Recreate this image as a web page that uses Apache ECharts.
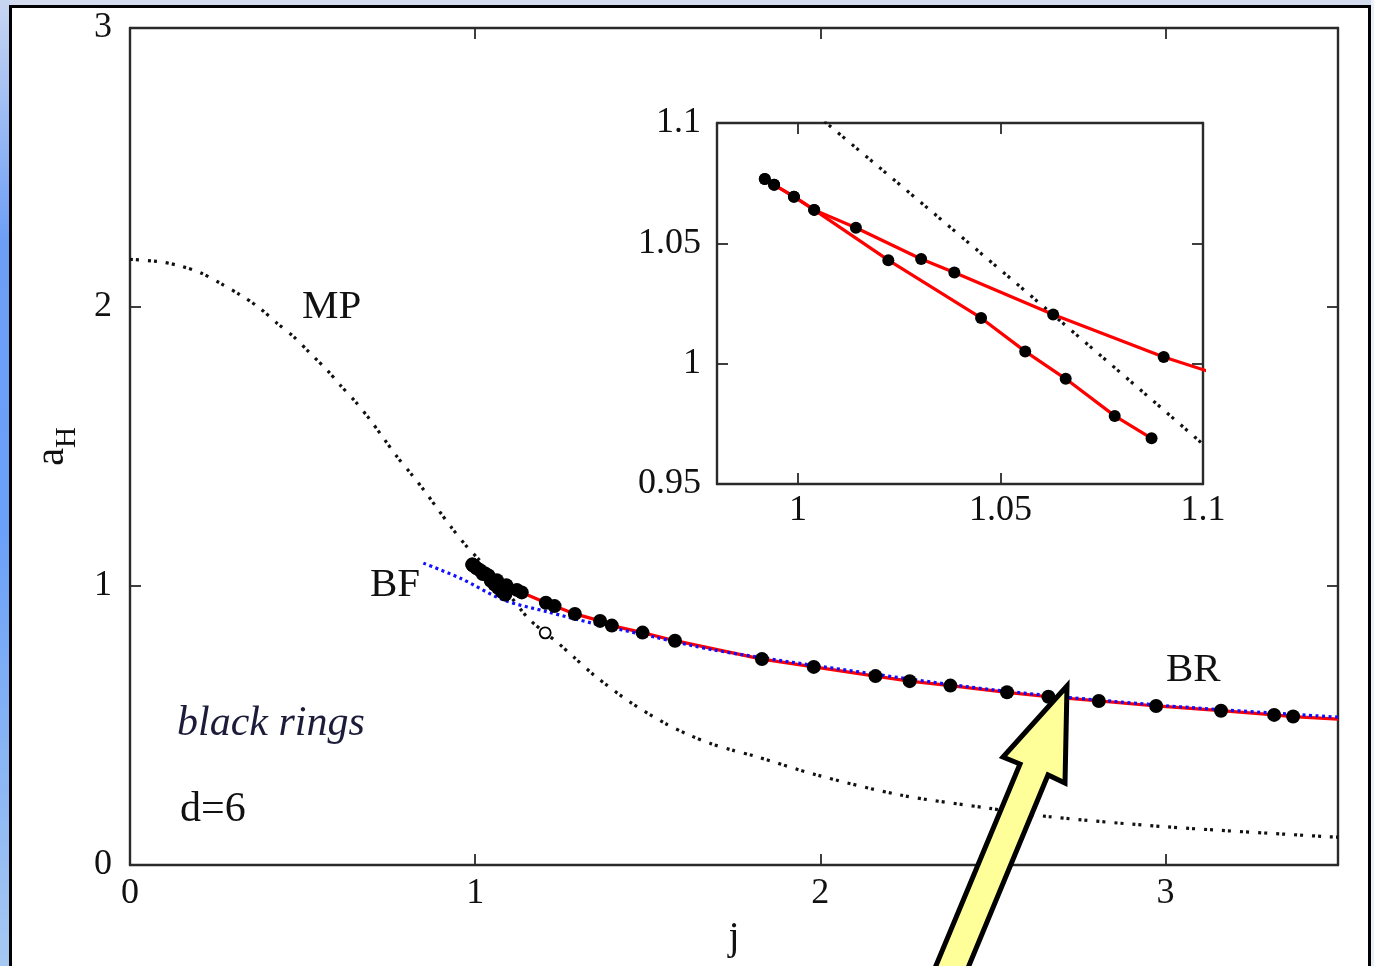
<!DOCTYPE html>
<html><head><meta charset="utf-8">
<script src="https://cdn.jsdelivr.net/npm/echarts@6/dist/echarts.min.js"></script>
<style>html,body{margin:0;padding:0;background:#d3dcef;}#c{width:1374px;height:966px;}</style>
</head><body><div id="c"></div>
<script>
// ---- data ----
const mainXLabels = [0, 1, 2, 3];
const mainXTicks = [1, 2, 3];
const mainYLabels = [0, 1, 2, 3];
const mainYTicks = [1, 2];
const insetXLabels = [1, 1.05, 1.1];
const insetXTicks = [1, 1.05];
const insetYLabels = [0.95, 1, 1.05, 1.1];
const insetYTicks = [1, 1.05];

// Myers-Perry curve (black dotted)
const mpCurve = [
  [0,2.171],[0.088,2.162],[0.146,2.147],[0.204,2.123],[0.262,2.085],[0.320,2.043],
  [0.373,1.999],[0.426,1.942],[0.474,1.894],[0.522,1.834],[0.571,1.774],[0.609,1.720],
  [0.653,1.661],[0.696,1.595],[0.735,1.529],[0.774,1.463],[0.817,1.398],[0.855,1.338],
  [0.894,1.272],[0.933,1.207],[0.976,1.141],[1.007,1.100],[1.099,0.968],[1.154,0.884],
  [1.203,0.832],[1.240,0.796],[1.284,0.747],[1.35,0.675],[1.45,0.583],[1.55,0.508],
  [1.62,0.466],[1.683,0.435],[1.744,0.412],[1.808,0.391],[1.989,0.323],[2.231,0.251],
  [2.491,0.203],[2.664,0.173],[3.002,0.137],[3.475,0.101],[3.5,0.100]
];
// blackfold approximation (blue dotted)
const bfCurve = [
  [0.850,1.082],[0.957,1.028],[1.082,0.950],[1.208,0.908],[1.342,0.866],[1.516,0.818],
  [1.690,0.771],[2.0,0.712],[2.5,0.628],[3.0,0.571],[3.5,0.530]
];
// black rings, thin branch (ends near j=1.087)
const brThin = [
  [0.9918,1.0767],[0.9941,1.0743],[0.9990,1.0694],[1.0040,1.0639],[1.0223,1.0430],
  [1.0452,1.0190],[1.0561,1.0051],[1.0661,0.9937],[1.0782,0.9783],[1.0873,0.9690]
];
// black rings, fat branch
const brFat = [
  [0.9918,1.0767],[0.9941,1.0743],[0.9990,1.0694],[1.0040,1.0639],[1.0143,1.0565],
  [1.0304,1.0435],[1.0386,1.0379],[1.0630,1.0204],[1.0903,1.0028],[1.121,0.986],
  [1.135,0.977],[1.205,0.940],[1.230,0.928],[1.289,0.900],[1.362,0.875],[1.396,0.858],
  [1.485,0.833],[1.579,0.804],[1.831,0.738],[1.981,0.710],[2.160,0.677],[2.259,0.659],
  [2.377,0.643],[2.541,0.619],[2.661,0.603],[2.807,0.588],[2.973,0.570],[3.161,0.553],
  [3.315,0.538],[3.370,0.532]
];
const brFatTail = [[3.5,0.523]];
const openCircle = [[1.203,0.832]];

// ---- chart ----
const chart = echarts.init(document.getElementById('c'), null, {renderer:'canvas'});
const SERIF = '"Liberation Serif","DejaVu Serif",serif';
const axisCol = '#2a2a2a';

function mkAxis(gridIndex, min, max, pos, labels, ticks, showLabel, fs, margin){
  return {type:'value', gridIndex, min, max, position:pos,
    axisLine:{show:true, onZero:false, lineStyle:{color:axisCol, width:2.4}},
    axisTick:{show:true, inside:true, length:11, customValues:ticks, lineStyle:{color:axisCol, width:1.8}},
    axisLabel:{show:showLabel, customValues:labels, fontFamily:SERIF, fontSize:fs, color:'#111', margin},
    splitLine:{show:false}};
}

const xAxes = [
  Object.assign(mkAxis(0, 0, 3.5, 'bottom', mainXLabels, mainXTicks, true, 36, 11),
    {name:'j', nameLocation:'middle', nameGap:53, nameTextStyle:{fontFamily:SERIF, fontSize:40, color:'#111'}}),
  mkAxis(0, 0, 3.5, 'top', mainXLabels, mainXTicks, false, 36, 12),
  mkAxis(1, 0.98, 1.1, 'bottom', insetXLabels, insetXTicks, true, 36, 9),
  mkAxis(1, 0.98, 1.1, 'top', insetXLabels, insetXTicks, false, 36, 9)
];
const yAxes = [
  Object.assign(mkAxis(0, 0, 3, 'left', mainYLabels, mainYTicks, true, 36, 18),
    {name:'{a|a}{h|H}', nameLocation:'middle', nameGap:58, nameRotate:90,
     nameTextStyle:{fontFamily:SERIF, color:'#111', rich:{
       a:{fontFamily:SERIF, fontSize:40, color:'#111', verticalAlign:'bottom', lineHeight:46},
       h:{fontFamily:SERIF, fontSize:29, color:'#111', verticalAlign:'bottom', lineHeight:46, padding:[0,0,-10,0]}}}}),
  mkAxis(0, 0, 3, 'right', mainYLabels, mainYTicks, false, 36, 18),
  mkAxis(1, 0.95, 1.1, 'left', insetYLabels, insetYTicks, true, 36, 16),
  mkAxis(1, 0.95, 1.1, 'right', insetYLabels, insetYTicks, false, 36, 16)
];

function seriesFor(xi, yi, sym, isMain){
  const s = [
    {type:'line', xAxisIndex:xi, yAxisIndex:yi, data:mpCurve, showSymbol:false, smooth:0.3, z:5,
     lineStyle:{color:'#111', width:3.2, type:[3,3,3,9]}, silent:true},
    {type:'line', xAxisIndex:xi, yAxisIndex:yi, data:brThin, showSymbol:false, z:6,
     lineStyle:{color:'#ff0000', width:3.2}},
    {type:'line', xAxisIndex:xi, yAxisIndex:yi, data:brFat.concat(brFatTail), showSymbol:false, z:6,
     lineStyle:{color:'#ff0000', width:3.2}},
    {type:'scatter', xAxisIndex:xi, yAxisIndex:yi, data:brThin.concat(brFat), symbolSize:sym, z:8,
     itemStyle:{color:'#000', opacity:1}}
  ];
  if (isMain) {
    s.push({type:'line', xAxisIndex:xi, yAxisIndex:yi, data:bfCurve, showSymbol:false, smooth:0.3, z:7,
     lineStyle:{color:'#1010ff', width:3.2, type:[3,3.5]}});
    s.push({type:'scatter', xAxisIndex:xi, yAxisIndex:yi, data:openCircle, symbolSize:11, z:8,
     itemStyle:{color:'#fff', borderColor:'#000', borderWidth:1.8, opacity:1}});
  }
  return s;
}

const series = seriesFor(0, 0, 14, true).concat(seriesFor(2, 2, 12, false));

const arrowPts = [[1067,686],[1065,783],[1048,775],[958,992],[925,992],[1020,764],[1003,757]];

chart.setOption({
  backgroundColor:'#d3dcef',
  animation:false,
  grid:[
    {left:130, top:28, right:36, bottom:101, show:false, outerBoundsMode:'none'},
    {left:717, top:123, width:486, height:361, show:true, backgroundColor:'#fff', borderWidth:0, z:0, outerBoundsMode:'none'}
  ],
  xAxis:xAxes,
  yAxis:yAxes,
  series,
  graphic:[
    {type:'rect', z:-20, silent:true, shape:{x:0,y:0,width:10,height:966},
     style:{fill:new echarts.graphic.LinearGradient(0,0,0,1,[
       {offset:0,color:'#c9d6f1'},{offset:0.25,color:'#6d9ef6'},{offset:0.55,color:'#6aa0f8'},{offset:1,color:'#a6c8f2'}])}},
    {type:'rect', z:-20, silent:true, shape:{x:1371,y:0,width:3,height:966}, style:{fill:'#eaf0fa'}},
    {type:'rect', z:-19, silent:true, shape:{x:10.5,y:6.5,width:1359,height:980},
     style:{fill:'#fff', stroke:'#000', lineWidth:3}},
    {type:'text', z:10, left:302, top:287, style:{text:'MP', font:'41px '+SERIF, fill:'#111'}},
    {type:'text', z:10, left:370, top:565, style:{text:'BF', font:'41px '+SERIF, fill:'#111'}},
    {type:'text', z:10, left:1166, top:650, style:{text:'BR', font:'41px '+SERIF, fill:'#111'}},
    {type:'text', z:10, left:177, top:703, style:{text:'black rings', font:'italic 42px '+SERIF, fill:'#1c1c3a'}},
    {type:'text', z:10, left:180, top:789, style:{text:'d=6', font:'42px '+SERIF, fill:'#111'}},
    {type:'polygon', z:100, silent:true, shape:{points:arrowPts},
     style:{fill:'#ffff99', stroke:'#000', lineWidth:5, lineJoin:'miter'}}
  ]
});
</script></body></html>
